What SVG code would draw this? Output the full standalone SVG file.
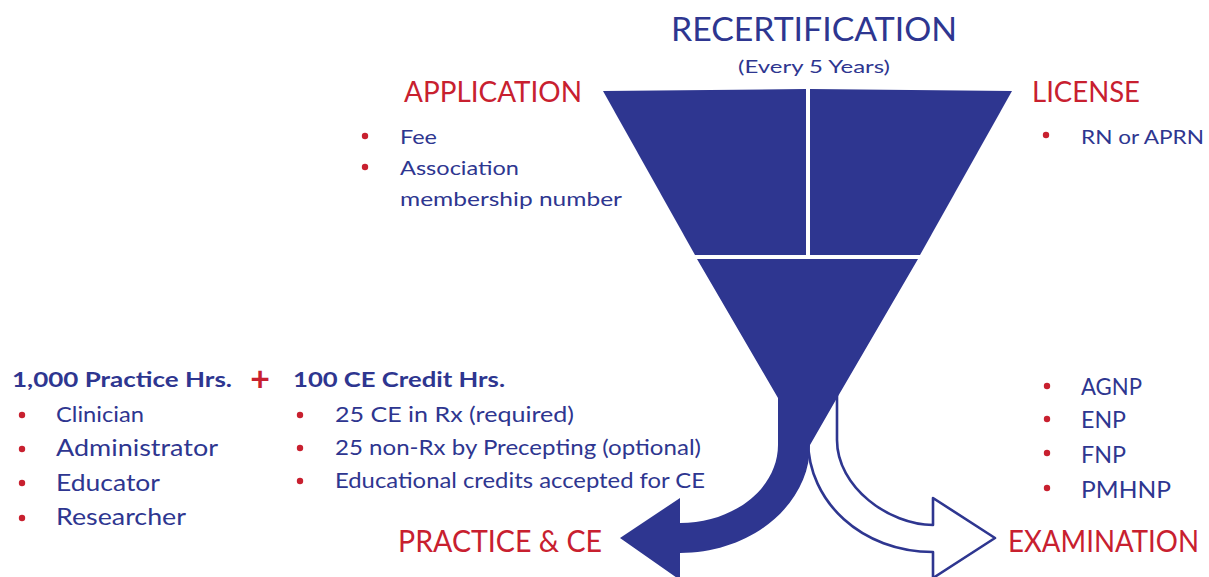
<svg xmlns="http://www.w3.org/2000/svg" width="1209" height="577" viewBox="0 0 1209 577">
<style>
text{font-family:Lato,"Open Sans","Liberation Sans",sans-serif;}
.b{fill:#2E3690;}
.r{fill:#C8202F;}
.h{fill:#C8202F;font-size:28px;}
.t{fill:#2E3690;font-size:20px;}
.l{fill:#2E3690;font-size:21.5px;}
.bold{fill:#2E3690;font-size:21px;font-weight:bold;}
.dot{fill:#C8202F;}
</style>
<rect width="1209" height="577" fill="#ffffff"/>
<g id="connectors">
<path id="exam-arrow" d="M837,390 L837,440 C837,487 889,525 933,525 L933,498 L995,538 L933,578 L933,552 C862,552 808,502 808,440 L808,390 Z" fill="#ffffff" stroke="#2E3690" stroke-width="2.6" stroke-linejoin="round"/>
<path id="practice-arrow" class="b" d="M697,259 L918,259 L837,398 L810,445 C810,504 752,553 680,553 L680,580 L620,538 L680,498 L680,523 C734,523 778,488 778,445 L778,398 Z"/>
</g>
<g id="funnel">
<path id="funnel-left" class="b" d="M603,91 L806,89 L806,255 L695,255 Z"/>
<path id="funnel-right" class="b" d="M810,89 L1012,91 L920,255 L810,255 Z"/>
</g>
<g id="title">
<text x="814" y="41" text-anchor="middle" fill="#2E3690" font-size="33" textLength="286" lengthAdjust="spacingAndGlyphs">RECERTIFICATION</text>
<text x="814" y="73" text-anchor="middle" fill="#2E3690" font-size="18" textLength="152" lengthAdjust="spacingAndGlyphs">(Every 5 Years)</text>
</g>
<g id="application">
<text class="h" x="404" y="102" textLength="178" lengthAdjust="spacingAndGlyphs">APPLICATION</text>
<circle class="dot" cx="365" cy="136" r="3.2"/>
<text class="t" x="400" y="144" textLength="37" lengthAdjust="spacingAndGlyphs">Fee</text>
<circle class="dot" cx="365" cy="167" r="3.2"/>
<text class="t" x="400" y="175" textLength="119" lengthAdjust="spacingAndGlyphs">Association</text>
<text class="t" x="400" y="206" textLength="222" lengthAdjust="spacingAndGlyphs">membership number</text>
</g>
<g id="license">
<text class="h" x="1032" y="102" textLength="108" lengthAdjust="spacingAndGlyphs">LICENSE</text>
<circle class="dot" cx="1046" cy="135" r="3.2"/>
<text class="t" x="1081" y="144" textLength="123" lengthAdjust="spacingAndGlyphs">RN or APRN</text>
</g>
<g id="practice">
<text class="bold" x="12" y="387" textLength="220" lengthAdjust="spacingAndGlyphs">1,000 Practice Hrs.</text>
<text class="r" x="260" y="391" text-anchor="middle" font-size="34" font-weight="bold">+</text>
<circle class="dot" cx="22" cy="415" r="3.2"/>
<text class="l" x="56" y="422" font-size="21" textLength="88" lengthAdjust="spacingAndGlyphs">Clinician</text>
<circle class="dot" cx="22" cy="449" r="3.2"/>
<text class="l" x="56" y="456" style="font-size:23.5px" textLength="162" lengthAdjust="spacingAndGlyphs">Administrator</text>
<circle class="dot" cx="22" cy="483" r="3.2"/>
<text class="l" x="56" y="491" style="font-size:23.5px" textLength="104" lengthAdjust="spacingAndGlyphs">Educator</text>
<circle class="dot" cx="22" cy="518" r="3.2"/>
<text class="l" x="56" y="525" style="font-size:23.5px" textLength="130" lengthAdjust="spacingAndGlyphs">Researcher</text>
</g>
<g id="ce">
<text class="bold" x="293" y="387" textLength="212" lengthAdjust="spacingAndGlyphs">100 CE Credit Hrs.</text>
<circle class="dot" cx="300" cy="415" r="3.2"/>
<text class="l" x="335" y="422" textLength="239" lengthAdjust="spacingAndGlyphs">25 CE in Rx (required)</text>
<circle class="dot" cx="300" cy="448" r="3.2"/>
<text class="l" x="335" y="455" textLength="366" lengthAdjust="spacingAndGlyphs">25 non-Rx by Precepting (optional)</text>
<circle class="dot" cx="300" cy="481" r="3.2"/>
<text class="l" x="335" y="488" textLength="370" lengthAdjust="spacingAndGlyphs">Educational credits accepted for CE</text>
</g>
<g id="practice-ce-label">
<text class="h" x="398" y="552" style="font-size:30px" textLength="204" lengthAdjust="spacingAndGlyphs">PRACTICE &amp; CE</text>
</g>
<g id="examination">
<circle class="dot" cx="1047" cy="386" r="3.2"/>
<text class="l" x="1081" y="395" style="font-size:23.5px" textLength="61" lengthAdjust="spacingAndGlyphs">AGNP</text>
<circle class="dot" cx="1047" cy="419" r="3.2"/>
<text class="l" x="1081" y="428" style="font-size:23.5px" textLength="45" lengthAdjust="spacingAndGlyphs">ENP</text>
<circle class="dot" cx="1047" cy="453" r="3.2"/>
<text class="l" x="1081" y="463" style="font-size:23.5px" textLength="45" lengthAdjust="spacingAndGlyphs">FNP</text>
<circle class="dot" cx="1047" cy="488" r="3.2"/>
<text class="l" x="1081" y="498" style="font-size:23.5px" textLength="90" lengthAdjust="spacingAndGlyphs">PMHNP</text>
<text class="h" transform="translate(1008,552) scale(1,1.2)" x="0" y="0" style="font-size:25px" textLength="191" lengthAdjust="spacingAndGlyphs">EXAMINATION</text>
</g>
</svg>
